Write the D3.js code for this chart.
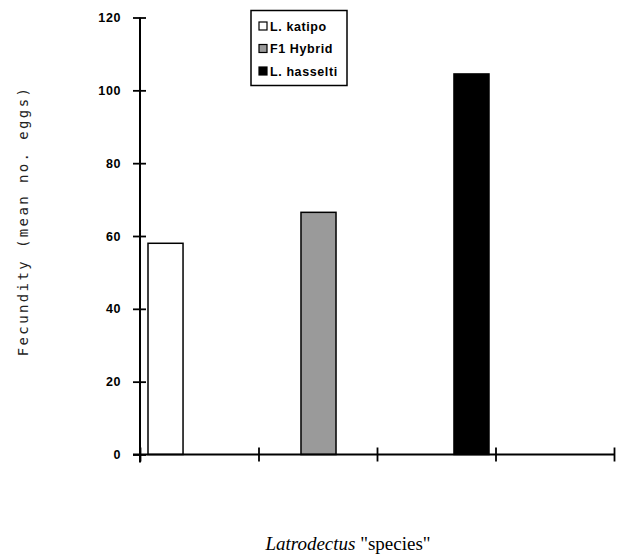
<!DOCTYPE html>
<html>
<head>
<meta charset="utf-8">
<script src="https://cdn.jsdelivr.net/npm/d3@7"></script>
<style>
html,body{margin:0;padding:0;background:#fff;}
svg{display:block;}
</style>
</head>
<body>
<script>
const categories = ["L. katipo", "F1 Hybrid", "L. hasselti"];
const fecundity = [58, 66.5, 104.5];
const fills = ["#ffffff", "#9a9a9a", "#000000"];
const yTicks = [0, 20, 40, 60, 80, 100, 120];
const xTicks = [0, 1, 2, 3, 4];

const W = 625, H = 556;
const svg = d3.select("body").append("svg").attr("width", W).attr("height", H);

const y = d3.scaleLinear().domain([0, 120]).range([454.5, 17.5]);
const xAxisScale = d3.scaleLinear().domain([0, 4]).range([140, 614]);
const xBar = d3.scaleBand().domain(categories).range([148, 489]).paddingInner(0.771).paddingOuter(0);

// bars
svg.append("g").selectAll("rect").data(categories).join("rect")
  .attr("x", d => xBar(d))
  .attr("width", xBar.bandwidth())
  .attr("y", (d, i) => y(fecundity[i]))
  .attr("height", (d, i) => y(0) - y(fecundity[i]))
  .attr("fill", (d, i) => fills[i])
  .attr("stroke", "#000")
  .attr("stroke-width", 1.5);

// y axis
const yAxis = svg.append("g").attr("transform", "translate(140,0)")
  .call(d3.axisLeft(y).tickValues(yTicks).tickSize(7).tickPadding(12));
yAxis.select(".domain").remove();
yAxis.append("line").attr("x1", 0).attr("x2", 0).attr("y1", y(120)).attr("y2", y(0) + 8)
  .attr("stroke", "#000").attr("stroke-width", 2);
yAxis.selectAll(".tick line").attr("x1", 6).attr("stroke-width", 1.8);
yAxis.selectAll(".tick text")
  .attr("font-family", "'Liberation Sans', Arial, sans-serif")
  .attr("font-weight", "bold").attr("font-size", 12.5)
  .attr("letter-spacing", 0.6).attr("fill", "#000");

// x axis
const xAxis = svg.append("g").attr("transform", `translate(0,${y(0)})`)
  .call(d3.axisBottom(xAxisScale).tickValues(xTicks).tickSize(7).tickFormat(""));
xAxis.select(".domain").remove();
xAxis.append("line").attr("x1", 133).attr("x2", 614).attr("y1", 0).attr("y2", 0)
  .attr("stroke", "#000").attr("stroke-width", 2);
xAxis.selectAll(".tick line").attr("y1", -7).attr("stroke-width", 1.8);

// legend
const lg = svg.append("g");
lg.append("rect").attr("x", 251).attr("y", 10.5).attr("width", 96).attr("height", 75)
  .attr("fill", "#fff").attr("stroke", "#000").attr("stroke-width", 1.5);
const rowY = d3.scalePoint().domain(categories).range([26, 71]);
categories.forEach((c, i) => {
  lg.append("rect").attr("x", 259).attr("y", rowY(c) - 4).attr("width", 8).attr("height", 8)
    .attr("fill", fills[i]).attr("stroke", "#000").attr("stroke-width", 1.2);
  lg.append("text").attr("x", 270).attr("y", rowY(c) + 4.5).text(c)
    .attr("font-family", "'Liberation Sans', Arial, sans-serif")
    .attr("font-weight", "bold").attr("font-size", 12.5).attr("letter-spacing", 0.6);
});

// y title
svg.append("text")
  .attr("transform", "translate(28,221) rotate(-90)")
  .attr("text-anchor", "middle")
  .attr("font-family", "'DejaVu Sans Mono', monospace")
  .attr("font-size", 14).attr("letter-spacing", 2.4)
  .attr("fill", "#222")
  .attr("xml:space", "preserve")
  .text("Fecundity (mean no. eggs)");

// x title
const xt = svg.append("text").attr("x", 348).attr("y", 550).attr("text-anchor", "middle")
  .attr("font-family", "'Liberation Serif', 'Times New Roman', serif").attr("font-size", 19);
xt.append("tspan").attr("font-style", "italic").text("Latrodectus");
xt.append("tspan").text(" \"species\"");
</script>
</body>
</html>
